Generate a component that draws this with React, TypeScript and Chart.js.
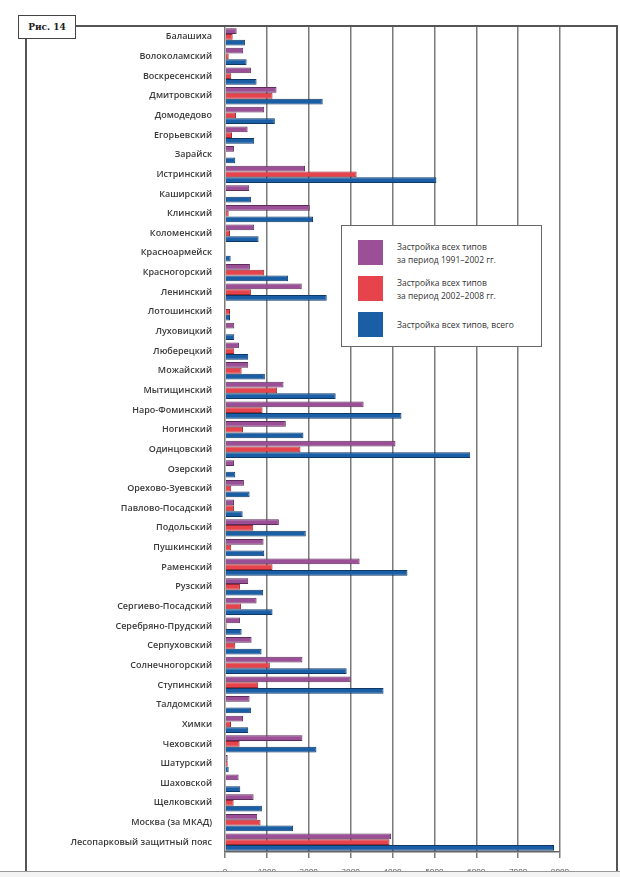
import React, { useEffect, useRef } from "react";
import { Chart, registerables } from "chart.js";

Chart.register(...registerables);

const categories = [
  "Балашиха", "Волоколамский", "Воскресенский", "Дмитровский", "Домодедово",
  "Егорьевский", "Зарайск", "Истринский", "Каширский", "Клинский",
  "Коломенский", "Красноармейск", "Красногорский", "Ленинский", "Лотошинский",
  "Луховицкий", "Люберецкий", "Можайский", "Мытищинский", "Наро-Фоминский",
  "Ногинский", "Одинцовский", "Озерский", "Орехово-Зуевский", "Павлово-Посадский",
  "Подольский", "Пушкинский", "Раменский", "Рузский", "Сергиево-Посадский",
  "Серебряно-Прудский", "Серпуховский", "Солнечногорский", "Ступинский", "Талдомский",
  "Химки", "Чеховский", "Шатурский", "Шаховской", "Щелковский",
  "Москва (за МКАД)", "Лесопарковый защитный пояс",
];

const series1991 = [
  278, 436, 619, 1230, 937,
  540, 214, 1912, 579, 2024,
  698, 0, 595, 1833, 20,
  222, 333, 555, 1397, 3310,
  1452, 4071, 214, 452, 214,
  1286, 921, 3214, 555, 754,
  357, 635, 1849, 3000, 587,
  429, 1849, 64, 325, 683,
  770, 3968,
];

const series2002 = [
  183, 88, 150, 1135, 262,
  167, 10, 3143, 0, 88,
  119, 0, 937, 619, 119,
  0, 222, 397, 1246, 897,
  429, 1802, 0, 150, 214,
  675, 150, 1135, 357, 381,
  40, 246, 1071, 794, 0,
  143, 349, 64, 0, 206,
  849, 3929,
];

const seriesTotal = [
  476, 516, 754, 2333, 1190,
  698, 246, 5048, 619, 2103,
  802, 135, 1508, 2429, 119,
  222, 555, 952, 2643, 4214,
  1873, 5857, 246, 587, 421,
  1929, 937, 4357, 913, 1135,
  397, 873, 2905, 3786, 619,
  555, 2183, 88, 365, 881,
  1627, 7857,
];

const xTicks = [0, 1000, 2000, 3000, 4000, 5000, 6000, 7000, 8000];

const seriesLabels = [
  ["Застройка всех типов", "за период 1991–2002 гг."],
  ["Застройка всех типов", "за период 2002–2008 гг."],
  ["Застройка всех типов, всего"],
];
const seriesColors = ["#9b4f96", "#e6434c", "#1a5ea6"];
const seriesBorders = ["#5c2c5a", "#9c2a32", "#0e3866"];

const labelFont = "'Open Sans', 'DejaVu Sans', sans-serif";

export default function App() {
  const canvasRef = useRef<HTMLCanvasElement | null>(null);

  useEffect(() => {
    if (!canvasRef.current) return;
    const chart = new Chart(canvasRef.current, {
      type: "bar",
      data: {
        labels: categories,
        datasets: [series1991, series2002, seriesTotal].map((d, i) => ({
          label: seriesLabels[i].join(" "),
          data: d,
          backgroundColor: seriesColors[i],
          borderColor: seriesBorders[i],
          borderWidth: 1,
          categoryPercentage: 0.88,
          barPercentage: 1.0,
        })),
      },
      options: {
        indexAxis: "y",
        animation: false,
        responsive: true,
        maintainAspectRatio: false,
        layout: { padding: { left: 0, right: 60, top: 27, bottom: 0 } },
        plugins: {
          legend: { display: false },
          tooltip: { enabled: false },
        },
        scales: {
          x: {
            min: 0,
            max: 8000,
            afterBuildTicks: (scale: any) => {
              scale.ticks = xTicks.map((v) => ({ value: v }));
            },
            afterFit: (scale: any) => {
              scale.height = 25;
            },
            grid: {
              color: "#7a7a7a",
              lineWidth: 1.5,
              tickLength: 6,
            },
            border: { display: true, color: "#666", width: 1.5 },
            ticks: {
              padding: 9,
              color: "#555",
              font: { family: labelFont, size: 8 },
              maxRotation: 0,
              callback: (v: any) => String(v),
            },
          },
          y: {
            afterFit: (scale: any) => {
              scale.width = 225;
            },
            grid: { display: false },
            border: { display: false },
            ticks: {
              padding: 5,
              color: "#3a3a3a",
              autoSkip: false,
              font: { family: labelFont, size: 9, weight: 600 },
            },
          },
        },
      },
    });
    return () => chart.destroy();
  }, []);

  return (
    <div style={{ position: "absolute", left: 0, top: 0, width: 620, height: 877, background: "#fff", overflow: "hidden" }}>
      <div
        style={{
          position: "absolute",
          left: 25,
          top: 25,
          width: 589,
          height: 860,
          borderTop: "2px solid #555",
          borderLeft: "2px solid #555",
          borderRight: "2px solid #555",
        }}
      />
      <div style={{ position: "absolute", left: 0, top: 0, width: 620, height: 877 }}>
        <canvas ref={canvasRef} />
      </div>
      <div
        style={{
          position: "absolute",
          left: 18,
          top: 15,
          width: 56,
          height: 22,
          border: "1.5px solid #444",
          background: "#fff",
          fontFamily: "'DejaVu Serif', 'Liberation Serif', serif",
          fontWeight: 700,
          fontSize: 9,
          color: "#222",
          display: "flex",
          alignItems: "center",
          justifyContent: "center",
        }}
      >
        Рис. 14
      </div>
      <div
        style={{
          position: "absolute",
          left: 341,
          top: 225,
          width: 199,
          height: 120,
          border: "1.5px solid #666",
          background: "#fff",
        }}
      >
        {seriesLabels.map((lines, i) => (
          <div
            key={i}
            style={{
              position: "absolute",
              left: 16,
              top: 14 + i * 36,
              height: 25,
              display: "flex",
              alignItems: "center",
            }}
          >
            <div style={{ width: 25, height: 25, background: seriesColors[i], flex: "none" }} />
            <div
              style={{
                marginLeft: 14,
                fontFamily: labelFont,
                fontSize: 8.5,
                lineHeight: "13px",
                color: "#333",
                whiteSpace: "nowrap",
              }}
            >
              {lines.map((l, j) => (
                <div key={j}>{l}</div>
              ))}
            </div>
          </div>
        ))}
      </div>
      <div
        style={{
          position: "absolute",
          left: 0,
          top: 871,
          width: 620,
          height: 6,
          background: "#f4f4f4",
          borderTop: "1px solid #999",
        }}
      />
    </div>
  );
}
